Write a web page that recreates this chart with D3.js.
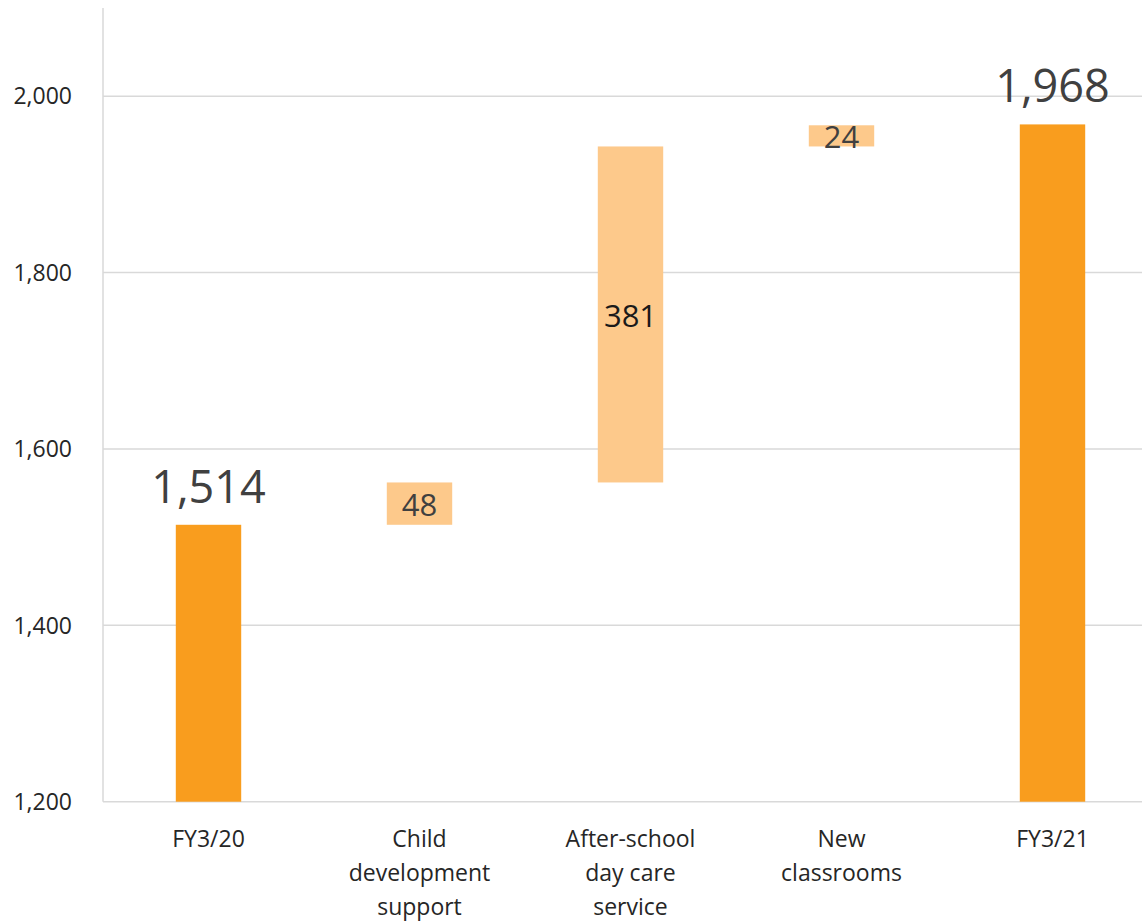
<!DOCTYPE html>
<html>
<head>
<meta charset="utf-8">
<script src="https://cdn.jsdelivr.net/npm/d3@7"></script>
<style>
  html, body { margin: 0; padding: 0; background: #fff; }
  svg { display: block; }
  text { font-family: "Open Sans", "Noto Sans", sans-serif; }
</style>
</head>
<body>
<svg id="chart" width="1142" height="922"></svg>
<script>
// ---- data ----
const categories = ["FY3/20", "Child development support", "After-school day care service", "New classrooms", "FY3/21"];
const categoryLines = [["FY3/20"], ["Child", "development", "support"], ["After-school", "day care", "service"], ["New", "classrooms"], ["FY3/21"]];
const values = [1514, 48, 381, 24, 1968];
const kinds = ["total", "delta", "delta", "delta", "total"];
const yTicks = [1200, 1400, 1600, 1800, 2000];
const yDomain = [1200, 2100];

// ---- layout ----
const svg = d3.select("#chart");
const plotLeft = 103, plotRight = 1158, plotTop = 8, plotBottom = 801.7;

const x = d3.scaleBand().domain(categories).range([plotLeft, plotRight])
  .paddingInner(0.69).paddingOuter(0.345);
const y = d3.scaleLinear().domain(yDomain).range([plotBottom, plotTop]);

// compute waterfall segments
let running = 0;
const bars = categories.map((c, i) => {
  let lo, hi;
  if (kinds[i] === "total") { lo = yDomain[0]; hi = values[i]; running = values[i]; }
  else { lo = running; hi = running + values[i]; running = hi; }
  return { cat: c, lo, hi, v: values[i], kind: kinds[i] };
});

// gridlines
svg.append("g").selectAll("line").data(yTicks).join("line")
  .attr("x1", plotLeft).attr("x2", 1142)
  .attr("y1", d => y(d)).attr("y2", d => y(d))
  .attr("stroke", "#d9d9d9").attr("stroke-width", 1.5);

// y axis line
svg.append("line")
  .attr("x1", plotLeft).attr("x2", plotLeft)
  .attr("y1", y(yDomain[1])).attr("y2", y(yDomain[0]))
  .attr("stroke", "#d9d9d9").attr("stroke-width", 1.5);

// y tick labels
const fmt = d3.format(",");
svg.append("g").selectAll("text").data(yTicks).join("text")
  .attr("x", 72).attr("y", d => y(d)).attr("dy", "0.36em")
  .attr("text-anchor", "end")
  .attr("font-size", 23).attr("fill", "#262626")
  .text(d => fmt(d));

// bars
svg.append("g").selectAll("rect").data(bars).join("rect")
  .attr("x", d => x(d.cat)).attr("width", x.bandwidth())
  .attr("y", d => y(d.hi)).attr("height", d => y(d.lo) - y(d.hi))
  .attr("fill", d => d.kind === "total" ? "#F99D1E" : "#FDC98B");

// value labels
svg.append("g").selectAll("text").data(bars).join("text")
  .attr("x", d => x(d.cat) + x.bandwidth() / 2)
  .attr("y", d => d.kind === "total" ? y(d.hi) - 22 : (y(d.hi) + y(d.lo)) / 2)
  .attr("dy", d => d.kind === "total" ? 0 : "0.40em")
  .attr("text-anchor", "middle")
  .attr("font-size", d => d.kind === "total" ? 45 : 31)
  .attr("fill", d => d.v === 381 ? "#1a1a1a" : "#404040")
  .text(d => fmt(d.v));

// category labels
const cl = svg.append("g").selectAll("text").data(categories).join("text")
  .attr("text-anchor", "middle")
  .attr("font-size", 23).attr("fill", "#262626");
cl.each(function(c, i) {
  const t = d3.select(this);
  categoryLines[i].forEach((ln, j) => {
    t.append("tspan")
      .attr("x", x(c) + x.bandwidth() / 2)
      .attr("y", 847 + j * 34)
      .text(ln);
  });
});
</script>
</body>
</html>
